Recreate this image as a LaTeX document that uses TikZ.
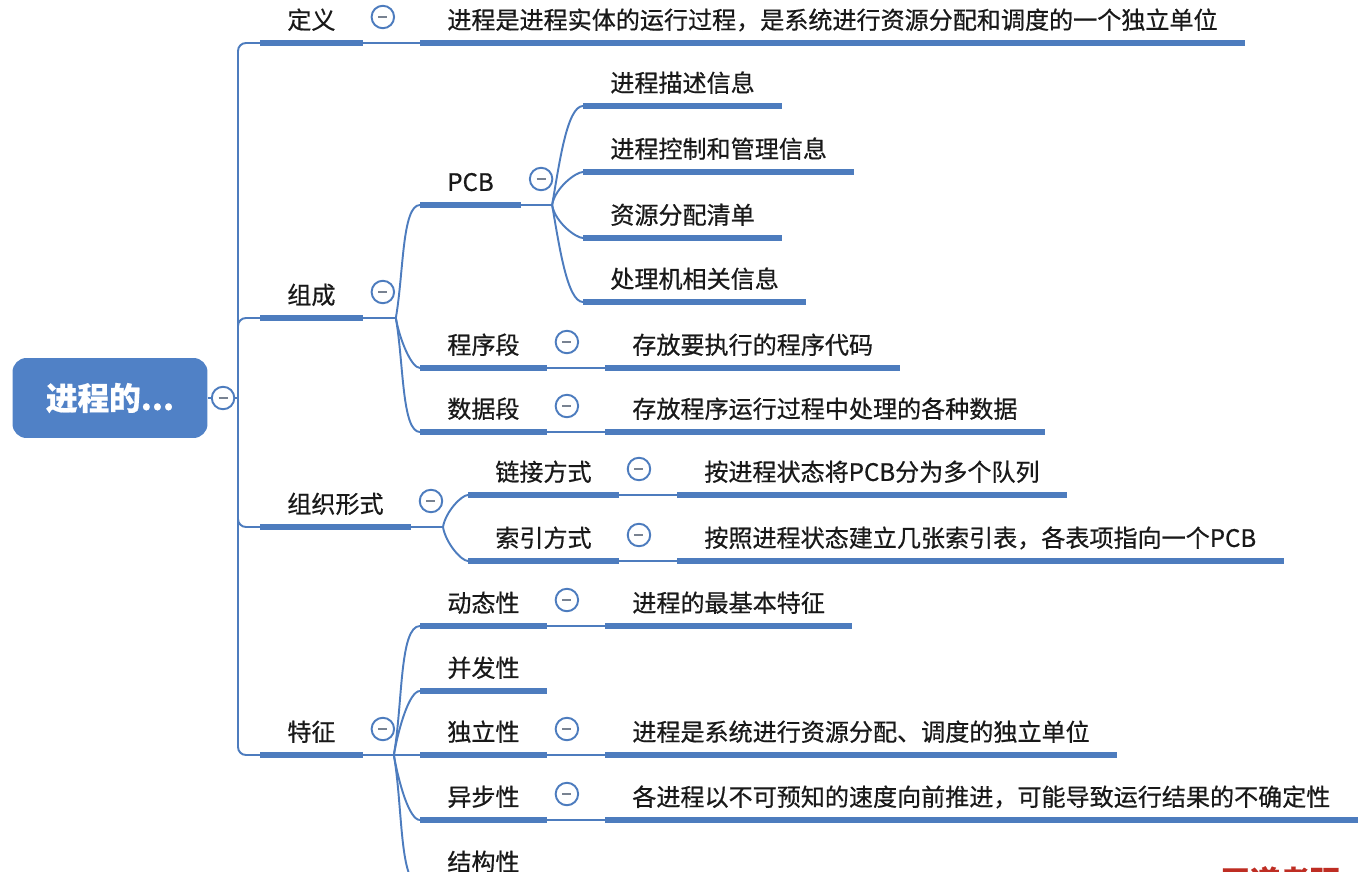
\documentclass[tikz,border=0pt]{standalone}
\usepackage{fontspec}
\setmainfont{Noto Sans CJK SC}[FakeBold=0.6]
\usepackage{tikz}
\usetikzlibrary{positioning}
\definecolor{mmblue}{RGB}{77,124,190}
\definecolor{mmroot}{RGB}{80,129,198}
\definecolor{mmgray}{RGB}{120,130,145}
\definecolor{mmtext}{RGB}{25,25,25}
\definecolor{mmred}{RGB}{190,45,35}
\tikzstyle{link} = [line width=1.1pt, color=mmblue]
\tikzstyle{bar} = [line width=2.9pt, color=mmblue]
\tikzstyle{topic} = [anchor=south west, inner xsep=0.54cm, inner ysep=0.175cm, text height=0.4cm, text depth=0.1cm, text=mmtext, font=\fontsize{13.7pt}{16pt}\selectfont]
\tikzstyle{rootbox} = [rectangle, rounded corners=0.28cm, fill=mmroot, text=white, minimum width=3.9cm, minimum height=1.6cm, font=\fontsize{18pt}{21pt}\selectfont\bfseries]
\tikzstyle{fold} = [circle, draw=mmblue, fill=white, line width=1.1pt, minimum size=0.45cm, inner sep=0pt, path picture={\draw[mmgray, line width=0.9pt] ([xshift=-0.09cm]path picture bounding box.center) -- ([xshift=0.09cm]path picture bounding box.center);}]
\tikzstyle{rise} = [out=80, in=180, in looseness=0.4]
\tikzstyle{fall} = [out=-80, in=180, in looseness=0.4]

\begin{document}
\begin{tikzpicture}[x=0.02cm, y=0.02cm]
\useasboundingbox (0,0) rectangle (1360,-872);

% Root
\node[rootbox] (root) at (110,-398) {进程的...};
\coordinate (hub) at (238,-398);

% Definition
\node[topic] (def) at (260,-43) {定义};
\node[topic] (defleaf) at (420,-43) {进程是进程实体的运行过程，是系统进行资源分配和调度的一个独立单位};

% Composition
\node[topic] (comp) at (260,-318) {组成};
\node[topic] (pcb) at (420,-205) {PCB};
\node[topic] (pcb1) at (583,-106) {进程描述信息};
\node[topic] (pcb2) at (583,-172) {进程控制和管理信息};
\node[topic] (pcb3) at (583,-238) {资源分配清单};
\node[topic] (pcb4) at (583,-302) {处理机相关信息};
\node[topic] (code) at (420,-368) {程序段};
\node[topic] (codeleaf) at (605,-368) {存放要执行的程序代码};
\node[topic] (data) at (420,-432) {数据段};
\node[topic] (dataleaf) at (605,-432) {存放程序运行过程中处理的各种数据};

% Organisation
\node[topic] (org) at (260,-527) {组织形式};
\node[topic] (chain) at (468,-495) {链接方式};
\node[topic] (chainleaf) at (677,-495) {按进程状态将PCB分为多个队列};
\node[topic] (index) at (468,-561) {索引方式};
\node[topic] (indexleaf) at (677,-561) {按照进程状态建立几张索引表，各表项指向一个PCB};

% Features
\node[topic] (feat) at (260,-755) {特征};
\node[topic] (dyn) at (420,-626) {动态性};
\node[topic] (dynleaf) at (605,-626) {进程的最基本特征};
\node[topic] (conc) at (420,-691) {并发性};
\node[topic] (indep) at (420,-755) {独立性};
\node[topic] (indepleaf) at (605,-755) {进程是系统进行资源分配、调度的独立单位};
\node[topic] (async) at (420,-820) {异步性};
\node[topic] (asyncleaf) at (605,-820) {各进程以不可预知的速度向前推进，可能导致运行结果的不确定性};
\node[topic] (struct) at (420,-885) {结构性};

% Trunk
\draw[link] (root.east) -- (hub);
\foreach \n in {def,comp,org,feat}
  \draw[link, rounded corners=0.16cm] (hub) |- (\n.south west);

% Branches
\draw[link] (def.south east) -- (defleaf.south west);
\draw[link] (comp.south east) -- ++(33,0) to[rise] (pcb.south west);
\draw[link] (comp.south east) -- ++(33,0) to[fall] (code.south west);
\draw[link] (comp.south east) -- ++(33,0) to[fall] (data.south west);
\draw[link] (pcb.south east) -- ++(31,0) to[rise] (pcb1.south west);
\draw[link] (pcb.south east) -- ++(31,0) to[rise] (pcb2.south west);
\draw[link] (pcb.south east) -- ++(31,0) to[fall] (pcb3.south west);
\draw[link] (pcb.south east) -- ++(31,0) to[fall] (pcb4.south west);
\draw[link] (code.south east) -- (codeleaf.south west);
\draw[link] (data.south east) -- (dataleaf.south west);
\draw[link] (org.south east) -- ++(32,0) to[rise] (chain.south west);
\draw[link] (org.south east) -- ++(32,0) to[fall] (index.south west);
\draw[link] (chain.south east) -- (chainleaf.south west);
\draw[link] (index.south east) -- (indexleaf.south west);
\draw[link] (feat.south east) -- ++(31,0) to[rise] (dyn.south west);
\draw[link] (feat.south east) -- ++(31,0) to[rise] (conc.south west);
\draw[link] (feat.south east) -- (indep.south west);
\draw[link] (feat.south east) -- ++(31,0) to[fall] (async.south west);
\draw[link] (feat.south east) -- ++(31,0) to[fall] (struct.south west);
\draw[link] (dyn.south east) -- (dynleaf.south west);
\draw[link] (indep.south east) -- (indepleaf.south west);
\draw[link] (async.south east) -- (asyncleaf.south west);

% Underlines
\foreach \n in {def,defleaf,comp,pcb,pcb1,pcb2,pcb3,pcb4,code,codeleaf,data,dataleaf,org,chain,chainleaf,index,indexleaf,feat,dyn,dynleaf,conc,indep,indepleaf,async,asyncleaf,struct}
  \draw[bar] (\n.south west) -- (\n.south east);

% Fold markers
\node[fold, right=0.06cm of root] (rootfold) {};
\foreach \n in {def,comp,pcb,code,data,org,chain,index,feat,dyn,indep,async}
  \node[fold] (\n-fold) at ([shift={(20,26)}]\n.south east) {};

% Watermark
\node[anchor=north west, inner sep=0pt, text=mmred, font=\fontsize{17pt}{20pt}\selectfont\bfseries] (mark) at (1220,-866) {王道考研};
\end{tikzpicture}
\end{document}
